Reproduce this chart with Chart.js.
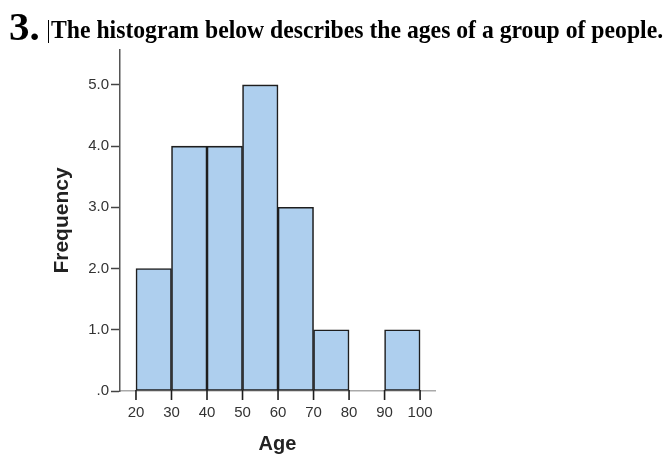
<!DOCTYPE html>
<html>
<head>
<meta charset="utf-8">
<script src="https://cdn.jsdelivr.net/npm/chart.js@4"></script>
<style>
  html, body { margin: 0; padding: 0; background: #fff; }
  body { width: 667px; height: 461px; position: relative; overflow: hidden; }
  #num { position: absolute; left: 9px; top: 6px; font: bold 41px "Liberation Serif", "DejaVu Serif", serif; color: #000; line-height: 1; }
  #title { position: absolute; left: 51px; top: 17px; font: bold 26px "Liberation Serif", "DejaVu Serif", serif; color: #000; line-height: 1; white-space: nowrap; transform: scaleX(0.911); transform-origin: left; }
  #cursor { position: absolute; left: 48px; top: 20px; width: 1px; height: 23px; background: #000; }
  #chart { position: absolute; left: 0; top: 0; }
</style>
</head>
<body>
<canvas id="chart" width="667" height="461"></canvas>
<div id="num">3.</div>
<div id="cursor"></div>
<div id="title">The histogram below describes the ages of a group of people.</div>
<script>
// bins of width 10, counts
const binStarts = [20, 30, 40, 50, 60, 70, 80, 90];
const counts = [2, 4, 4, 5, 3, 1, 0, 1];
const binWidth = 10;
const xTicks = [20, 30, 40, 50, 60, 70, 80, 90, 100];
const yTicks = [0, 1, 2, 3, 4, 5];

const points = binStarts
  .map((s, i) => ({ x: s + binWidth / 2, y: counts[i] }))
  .filter(p => p.y > 0);

const font = { family: '"Liberation Sans", Arial, sans-serif', size: 15 };

// draws the short dark tick marks under the x axis, at each bin edge
const xTickMarks = {
  id: 'xTickMarks',
  afterDraw(chart) {
    const s = chart.scales.x;
    const ctx = chart.ctx;
    ctx.save();
    ctx.strokeStyle = '#1e1e1e';
    ctx.lineWidth = 1.6;
    xTicks.forEach(v => {
      const px = s.getPixelForValue(v);
      ctx.beginPath();
      ctx.moveTo(px, s.top - 1);
      ctx.lineTo(px, s.top + 9);
      ctx.stroke();
    });
    ctx.restore();
  }
};

new Chart(document.getElementById('chart').getContext('2d'), {
  type: 'bar',
  data: {
    datasets: [{
      data: points,
      backgroundColor: '#aecfee',
      borderColor: '#1e1e1e',
      borderWidth: 1.6,
      borderSkipped: false,
      barPercentage: 1,
      categoryPercentage: 1
    }]
  },
  options: {
    responsive: false,
    animation: false,
    layout: { padding: { left: 40, right: 232, top: 50, bottom: 0 } },
    plugins: { legend: { display: false }, tooltip: { enabled: false } },
    scales: {
      x: {
        type: 'linear',
        offset: false,
        min: 15.5,
        max: 104.2,
        afterBuildTicks: s => { s.ticks = xTicks.map(v => ({ value: v })); },
        afterFit: s => { s.height = 70; },
        ticks: { color: '#333', font, padding: 4, callback: v => String(v), maxRotation: 0, autoSkip: false },
        grid: { offset: false, drawOnChartArea: false, drawTicks: true, tickLength: 9, tickColor: 'rgba(0,0,0,0)' },
        border: { display: true, color: '#aaaaaa', width: 1.5 },
        title: { display: true, text: 'Age', color: '#222', font: { family: font.family, size: 20, weight: 'bold' }, padding: { top: 0, bottom: 5 } }
      },
      y: {
        min: 0,
        max: 5.57,
        afterBuildTicks: s => { s.ticks = yTicks.map(v => ({ value: v })); },
        afterFit: s => { s.width = 80; },
        ticks: { color: '#333', font, padding: 2, callback: v => v === 0 ? '.0' : v.toFixed(1) },
        grid: { drawOnChartArea: false, drawTicks: true, tickLength: 9, tickColor: '#444', tickWidth: 1.5 },
        border: { display: true, color: '#555555', width: 1.5 },
        title: { display: true, text: 'Frequency', color: '#222', font: { family: font.family, size: 21, weight: 'bold' }, padding: { top: 10, bottom: 0 } }
      }
    }
  },
  plugins: [xTickMarks]
});
</script>
</body>
</html>
